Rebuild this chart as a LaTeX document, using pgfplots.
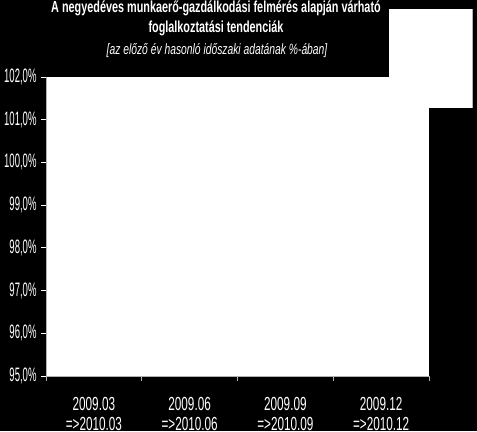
\documentclass[border=0pt]{standalone}
\usepackage{pgfplots}
\pgfplotsset{compat=1.18}
\usepackage{fontspec}
\setmainfont{Liberation Sans}
\newfontfamily\xfont{Liberation Sans}[FakeStretch=0.62]
\newfontfamily\yfont{Liberation Sans}[FakeStretch=0.49]
\newfontfamily\titlefont{Liberation Sans}[FakeStretch=0.68]
\newfontfamily\subfont{Liberation Sans}[FakeStretch=0.69]

\begin{document}
\begin{tikzpicture}[x=1bp,y=1bp]
\useasboundingbox (0,0) rectangle (477,431);
\fill[black] (0,0) rectangle (477,431);
\begin{axis}[
  at={(46bp,55bp)}, anchor=south west,
  scale only axis, width=383bp, height=299bp,
  xmin=0.5, xmax=4.5, ymin=95, ymax=102,
  axis background/.style={fill=white},
  axis x line*=bottom, axis y line*=left,
  axis line style={gray!60, line width=0.8pt},
  tick align=outside,
  ytick={95,96,...,102},
  major tick length=5bp,
  ytick style={white, line width=0.8pt},
  xtick={1,2,3,4},
  major x tick style={draw=none},
  minor xtick={0.5,1.5,2.5,3.5,4.5},
  minor tick length=5bp,
  minor x tick style={gray!60, line width=0.8pt},
  xticklabels={{2009.03\\=>2010.03},{2009.06\\=>2010.06},{2009.09\\=>2010.09},{2009.12\\=>2010.12}},
  xticklabel style={align=center, text=white, yshift=-13bp,
    font=\xfont\fontsize{19}{20}\selectfont},
  /pgf/number format/assume math mode=true,
  yticklabel={\pgfmathprintnumber[fixed,fixed zerofill,precision=1,use comma]{\tick}\%},
  yticklabel style={text=white, xshift=-1bp, font=\yfont\fontsize{19.5}{20}\selectfont},
]
\end{axis}
\node[anchor=base, text=white, font=\titlefont\bfseries\fontsize{16}{20}\selectfont] at (216,418) {A negyedéves munkaerő-gazdálkodási felmérés alapján várható};
\node[anchor=base, text=white, font=\titlefont\bfseries\fontsize{16}{20}\selectfont] at (216,398) {foglalkoztatási tendenciák};
\node[anchor=base, text=white, font=\subfont\itshape\fontsize{15}{17}\selectfont] at (217,377) {[az előző év hasonló időszaki adatának \%-ában]};
\fill[white] (389,323) rectangle (472,422);
\draw[gray!60] (472,323) -- (472,422);
\end{tikzpicture}
\end{document}
